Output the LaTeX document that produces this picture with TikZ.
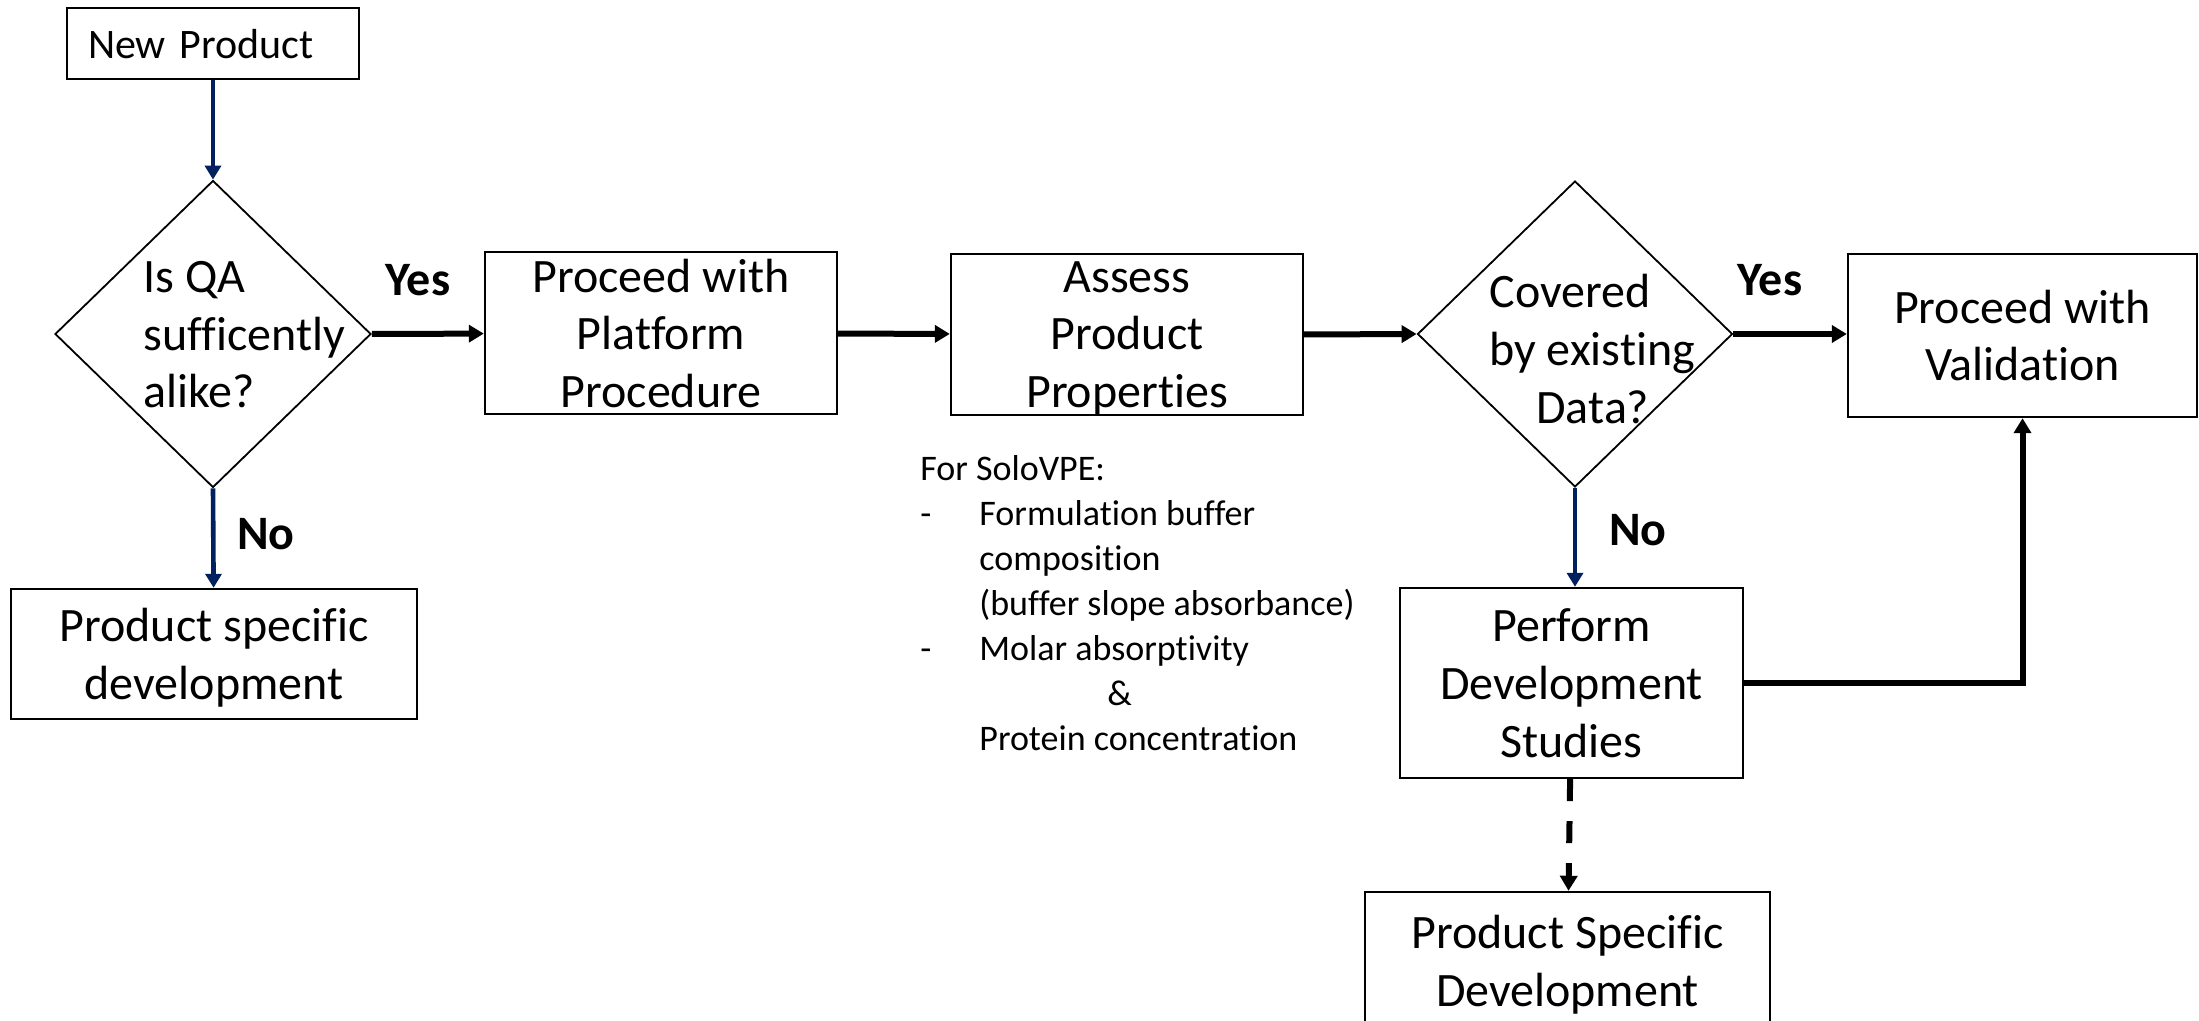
\documentclass[tikz,border=0pt]{standalone}
\usepackage{fontspec}
\setmainfont{Carlito}[Ligatures={NoCommon,NoContextual,NoRequired}, Contextuals=NoAlternate]
\usetikzlibrary{shapes.geometric, arrows.meta}
\definecolor{navyline}{RGB}{0,32,96}

\begin{document}
\begin{tikzpicture}[x=0.5pt,y=-0.5pt,
  box/.style={draw, line width=1.2pt, inner sep=0pt, align=center, text depth=0pt,
    font=\fontsize{24pt}{28.8pt}\selectfont},
  decision/.style={draw, diamond, line width=0.9pt, inner sep=0pt,
    minimum width=158pt, minimum height=153.5pt},
  question/.style={inner sep=0pt, align=left, font=\fontsize{24pt}{28.8pt}\selectfont},
  answer/.style={inner sep=0pt, font=\fontsize{24pt}{28.8pt}\selectfont\bfseries},
  flow/.style={line width=3pt, -{Triangle[length=7.5pt,width=8.5pt]}},
  navyflow/.style={line width=2.3pt, navyline, -{Triangle[length=7pt,width=8pt]}}]
\useasboundingbox (0,0) rectangle (2199,1021);
\clip (0,0) rectangle (2199,1021);

% Start and first decision
\node[box, minimum width=146pt, minimum height=35.5pt, text width=125pt,
  inner xsep=10.5pt, align=left, font=\fontsize{21pt}{25pt}\selectfont]
  (newprod) at (213,43.5) {New Product};
\node[decision] (qa) at (213,334) {};
\node[question, anchor=west] (qatext) at (143,335) {Is QA\\sufficently\\alike?};
\node[box, minimum width=203pt, minimum height=65pt] (specdev) at (214,654)
  {Product specific\\development};

% Main row
\node[box, minimum width=176pt, minimum height=81pt] (platform) at (661,333)
  {Proceed with\\Platform\\Procedure};
\node[box, minimum width=176pt, minimum height=80.5pt] (assess) at (1127,334.5)
  {Assess\\Product\\Properties};
\node[decision, minimum width=157.5pt, minimum height=153pt] (covered) at (1575,334) {};
\node[question, anchor=west] (coveredtext) at (1489,349)
  {Covered\\by existing\\\hspace*{23.5pt}Data?};
\node[box, minimum width=174.5pt, minimum height=81.5pt] (valid) at (2022.5,335.5)
  {Proceed with\\Validation};

% Development branch
\node[box, minimum width=171.5pt, minimum height=95pt] (perform) at (1571.5,683)
  {Perform\\Development\\Studies};
\node[box, minimum width=202.5pt, minimum height=69pt] (specdev2) at (1567.5,961)
  {Product Specific\\Development};

% Notes for SoloVPE
\node[inner sep=0pt, anchor=north west, align=left,
  font=\fontsize{18pt}{22.5pt}\selectfont] (notes) at (920,455)
  {For SoloVPE:\\
   \makebox[29.5pt][l]{-}Formulation buffer\\
   \hspace*{29.5pt}composition\\
   \hspace*{29.5pt}(buffer slope absorbance)\\
   \makebox[29.5pt][l]{-}Molar absorptivity\\
   \hspace*{93.5pt}\&\\
   \hspace*{29.5pt}Protein concentration};

% Answers
\node[answer] (yes1) at (418,280) {Yes};
\node[answer] (no1) at (266,534) {No};
\node[answer] (yes2) at (1770,280) {Yes};
\node[answer] (no2) at (1638,530) {No};

% Connectors
\draw[navyflow] (newprod) -- (qa.north);
\draw[navyflow] (qa.south) -- (specdev);
\draw[flow] (qa.east) -- (platform);
\draw[flow] (platform) -- (assess);
\draw[flow] (assess.east) -- (covered.west);
\draw[flow] (covered.east) -- (valid.west |- covered.east);
\draw[navyflow] (covered.south) -- (perform.north -| covered.south);
\draw[flow] (perform.east) -| (valid.south);
\draw[flow, dash pattern=on 11pt off 10pt] (perform) -- (specdev2);
\end{tikzpicture}
\end{document}
